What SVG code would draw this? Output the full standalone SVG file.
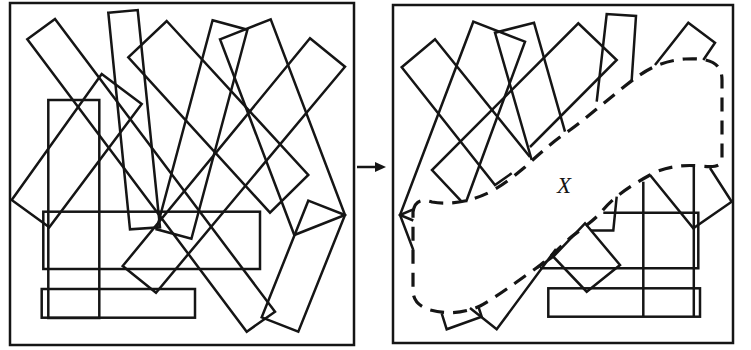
<svg xmlns="http://www.w3.org/2000/svg" width="751" height="350" viewBox="0 0 751 350">
<style>
.f{fill:none;stroke:#151515;stroke-width:2.5}
.s{fill:none;stroke:#151515;stroke-width:2.5;stroke-linejoin:miter}
.d{fill:none;stroke:#151515;stroke-width:3.2;stroke-dasharray:14 9}
.lbl{font-family:"Liberation Serif",serif;font-style:italic;font-size:23px;fill:#151515}
</style>
<rect width="751" height="350" fill="#fff"/>
<g id="left-panel">
<rect class="f" x="10" y="3" width="344" height="342"/>
<polygon id="lA" class="s" points="27.3,39.3 55,19 275,311.7 246.7,331.7"/>
<polygon id="lB" class="s" points="101.7,74 141.7,104 49.3,227.3 11.7,200"/>
<polygon id="lC" class="s" points="166.7,21 308.3,175 270,212.7 128.3,57.3"/>
<polygon id="lD" class="s" points="212.6,20.3 247.4,29.7 191.4,238.7 156.6,229.3"/>
<polygon id="lE" class="s" points="220,39.3 270.7,19.3 345,215 294.3,235"/>
<polygon id="lF" class="s" points="308.3,200.7 345,215 298.3,331.7 261.7,317.4"/>
<polygon id="lG" class="s" points="310,38.3 345,66.7 156,292.7 122.7,266"/>
<polygon id="lT" class="s" points="108.3,12.7 137.7,10 160,227.3 130,229.3"/>
<rect id="lU" class="s" x="48.3" y="100" width="51" height="218"/>
<rect id="lH1" class="s" x="43.3" y="211.7" width="216.7" height="57.3"/>
<rect id="lH2" class="s" x="41.7" y="289" width="153.3" height="28.7"/>
</g>
<g id="arrow">
<line class="s" x1="357" y1="167" x2="377" y2="167"/>
<polygon points="375,162 386,167 375,172" fill="#151515"/>
</g>
<g id="right-panel">
<rect class="f" x="393" y="5" width="340" height="338"/>
<g id="shapes">
<polyline id="rA" class="s" points="511.7,173.3 495,185 401.7,67.3 435,39.3 530,157"/>
<polyline id="rD" class="s" points="466,202 525,41.7 473.3,21.7 400,215 413.3,220.5"/>
<polyline id="rE" class="s" points="531.7,160 495,32.7 534,22.7 565,131.7"/>
<polyline id="rC" class="s" points="461.7,201.7 432,170 578.3,23.3 616.7,60 530,147"/>
<polyline id="rK" class="s" points="413.3,209.3 400,215 413.3,250"/>
<polyline id="rT" class="s" points="596.7,101.7 606.7,14 636,16 631.7,80"/>
<polyline id="rR" class="s" points="655,65 688.3,22.7 715,42.7 703.3,60"/>
<polyline id="rW" class="s" points="650,175 693.3,228.3 731.7,201.7 710,168"/>
<line id="rU1" class="s" x1="643.3" y1="181.7" x2="643.3" y2="316.7"/>
<line id="rU2" class="s" x1="693.8" y1="166" x2="693.8" y2="316.7"/>
<polyline id="rH1" class="s" points="603.3,212.7 698.3,212.7 698.3,268.3 540,268.3"/>
<rect id="rH2" class="s" x="548.3" y="288.3" width="151.7" height="28.4"/>
<polyline id="rS" class="s" points="616.7,196.7 613.3,230.5 591,230.5"/>
<polygon id="rM" class="s" points="585,223.3 620,265 586.7,291.7 553.3,256.7"/>
<line class="s" x1="553.3" y1="256.7" x2="536.7" y2="268.3"/>
<polyline id="rQ" class="s" points="441.7,313.3 446.7,329.3 481.7,316.7 478.5,307"/>
<polyline id="rP" class="s" points="470,308 496.7,329.3 556,249"/>
</g>
<path id="boundary" class="d" d="M413,212 C415,200 422,199 432,202 C450,205 470,202 490,192 C505,184 515,175 525,167 C540,153 555,140 570,130 C590,115 605,102 625,86 C645,70 660,61 685,59 C705,58 722,60 722,80 L722,158 C722,168 712,167 700,166 C680,164 662,168 650,175 C630,186 615,196 603,210 C595,220 580,230 570,238 C560,247 550,258 535,269 C515,283 495,298 480,306 C462,314 445,314 430,310 C418,306 413,300 413,290 Z"/>
<text class="lbl" x="557" y="193">X</text>
</g>
</svg>
